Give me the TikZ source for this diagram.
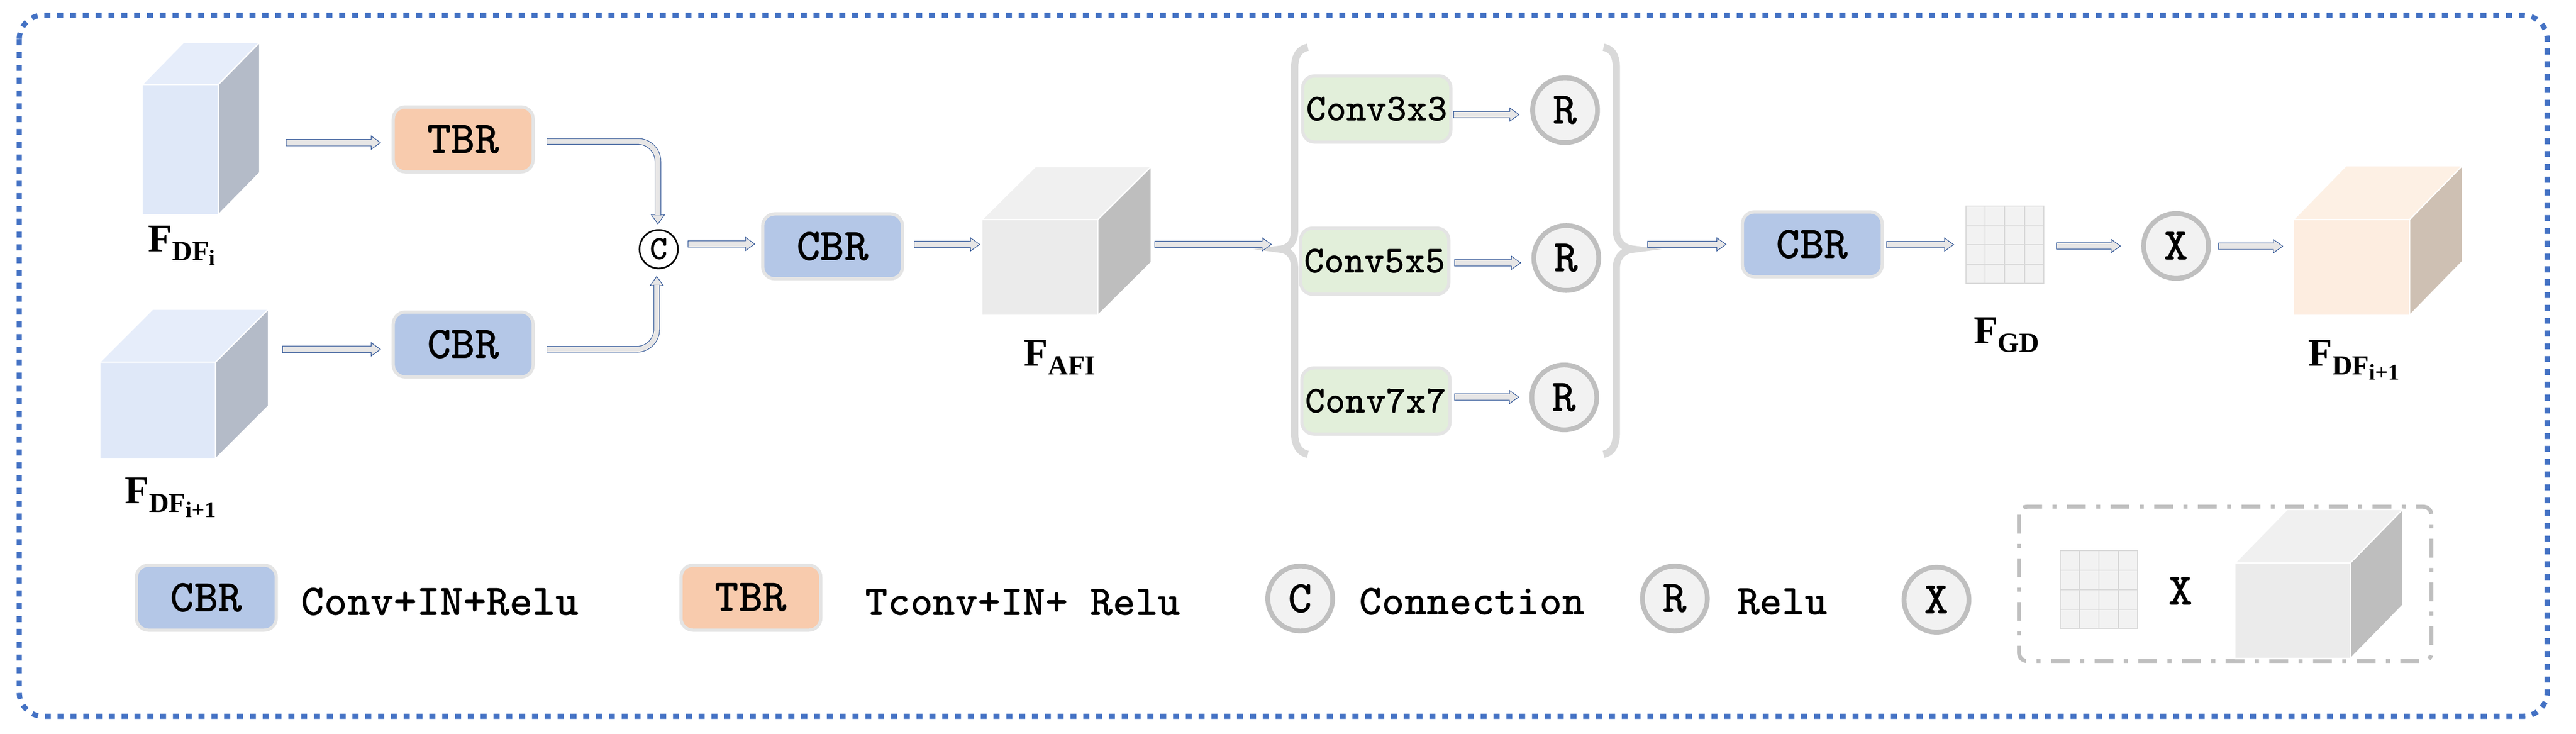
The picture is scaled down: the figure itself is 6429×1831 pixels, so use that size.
\documentclass[tikz,border=0pt]{standalone}
\usepackage{fontspec}
\setmainfont{Liberation Serif}
\usetikzlibrary{calc,fit}
\definecolor{ablue}{HTML}{2F5597}
\definecolor{agray}{HTML}{E7E6E6}
\definecolor{bblue}{HTML}{4472C4}
\definecolor{cbrc}{HTML}{B4C7E7}
\definecolor{tbrc}{HTML}{F8CBAD}
\definecolor{convc}{HTML}{E2EFDA}
\definecolor{boxline}{HTML}{E4E4E4}
\definecolor{bracec}{HTML}{D9D9D9}
\definecolor{cfill}{HTML}{F2F2F2}
\definecolor{cstroke}{HTML}{BFBFBF}
\definecolor{gline}{HTML}{D9D9D9}
\definecolor{cbF}{HTML}{DFE8F8}
\definecolor{cbT}{HTML}{E6EDFA}
\definecolor{cbS}{HTML}{B4BBC8}
\definecolor{cgF}{HTML}{EBEBEB}
\definecolor{cgT}{HTML}{F0F0F0}
\definecolor{cgS}{HTML}{BEBEBE}
\definecolor{coF}{HTML}{FDEDE0}
\definecolor{coT}{HTML}{FDF0E4}
\definecolor{coS}{HTML}{CEC0B3}
\newcommand\monoL{\ttfamily\bfseries\fontsize{11.4}{13}\selectfont}
\newcommand\monoM{\ttfamily\bfseries\fontsize{11}{13}\selectfont}
\newcommand\monoN{\ttfamily\bfseries\fontsize{10.7}{13}\selectfont}
\newcommand\monoS{\ttfamily\bfseries\fontsize{9.6}{11}\selectfont}
\newcommand\labfont{\bfseries\fontsize{9.8}{11}\selectfont}
% F label with subscript and optional sub-subscript
\newcommand\Flab[2]{F\raisebox{-2.2pt}{\fontsize{6.9}{8}\selectfont #1\raisebox{-1.3pt}{\fontsize{5.6}{6}\selectfont #2}}}
\tikzset{
  ahead/.style={draw=ablue, fill=agray, line width=0.15pt, line join=miter},
  dshaft/.style={draw=ablue, line width=0.15pt, double=agray, double distance=1.3pt},
  blockbox/.style={rectangle, rounded corners=3pt, draw=boxline, line width=0.8pt, minimum width=34.9pt, minimum height=16.2pt, inner sep=0pt, font=\monoL},
  convbox/.style={blockbox, fill=convc, minimum width=37pt, minimum height=16.5pt, font=\monoS},
  rcirc/.style={circle, fill=cfill, draw=cstroke, line width=1.2pt, minimum size=16.2pt, inner sep=0pt, font=\monoL},
  flabel/.style={anchor=base west, inner sep=0pt, font=\labfont},
  legtext/.style={anchor=base west, inner sep=0pt, font=\monoM},
  facestyle/.style={draw=white, line width=0.3pt, line join=miter},
}
% cube: name, x1, y1, x2, y2 (front face), dx, dy, colour prefix
\newcommand\cube[8]{%
  \filldraw[facestyle, fill=#8F] (#2,#3) rectangle (#4,#5);
  \filldraw[facestyle, fill=#8T] (#2,#3) -- (#2+#6,#3-#7) -- (#4+#6,#3-#7) -- (#4,#3) -- cycle;
  \filldraw[facestyle, fill=#8S] (#4,#3) -- (#4+#6,#3-#7) -- (#4+#6,#5-#7) -- (#4,#5) -- cycle;
  \node[fit={(#2,#3-#7) (#4+#6,#5)}, inner sep=0pt] (#1) {};
}
% straight block arrow: start, tip
\newcommand\harrow[2]{%
  \path #1 coordinate (hs) #2 coordinate (ht);
  \draw[ahead] ($(hs|-ht)+(0,-8)$) -- ($(ht)+(-23,-8)$) -- ($(ht)+(-23,-16.5)$) -- (ht)
     -- ($(ht)+(-23,16.5)$) -- ($(ht)+(-23,8)$) -- ($(hs|-ht)+(0,8)$) -- cycle;
}
% elbow block arrow: start, tip, direction (1 down, -1 up)
\newcommand\elbow[3]{%
  \path #1 coordinate (hs) #2 coordinate (ht);
  \draw[ahead] ($(ht)+(-16.5,-23*#3)$) -- (ht) -- ($(ht)+(16.5,-23*#3)$) -- cycle;
  \draw[dshaft, rounded corners=5pt] (hs) -| ($(ht)+(0,-21*#3)$);
  \draw[draw=ablue, line width=0.15pt] ($(hs)+(0,-8)$) -- ($(hs)+(0,8)$);
}
\begin{document}
\begin{tikzpicture}[x=0.1pt,y=-0.1pt]
\useasboundingbox (0,0) rectangle (6429,1831);
\fill[white] (0,0) rectangle (6429,1831);
% outer border
\draw[bblue, line width=1.3pt, dash pattern=on 1.5pt off 1.7pt, rounded corners=6pt] (48,38) rectangle (6357,1788);

% cubes
\cube{c1}{355}{211}{545}{536}{103}{105}{cb}
\cube{c2}{249}{904}{538}{1145}{132}{132}{cb}
\cube{c3}{2451}{548}{2740}{787}{133}{132}{cg}
\cube{c4}{5724}{548}{6014}{787}{131}{134}{co}

% labels
\node[flabel] (l1) at (368,628) {\Flab{DF}{i}};
\node[flabel] (l2) at (310,1257) {\Flab{DF}{i+1}};
\node[flabel] (l3) at (2554,913) {\Flab{AFI}{}};
\node[flabel] (l4) at (4924,857) {\Flab{GD}{}};
\node[flabel] (l5) at (5759,913) {\Flab{DF}{i+1}};

% boxes
\node[blockbox, fill=tbrc] (tbr) at (1156,348) {TBR};
\node[blockbox, fill=cbrc] (cbr1) at (1156,860) {CBR};
\node[blockbox, fill=cbrc] (cbrm) at (2078,615) {CBR};
\node[blockbox, fill=cbrc] (cbrr) at (4523,610) {CBR};
\node[convbox] (cv3) at (3436,272) {Conv3x3};
\node[convbox] (cv5) at (3431,652) {Conv5x5};
\node[convbox] (cv7) at (3434,1001) {Conv7x7};

% circles
\node[circle, fill=white, draw=black, line width=0.4pt, minimum size=9.6pt, inner sep=0pt, font=\ttfamily\bfseries\fontsize{8.5}{10}\selectfont] (cc) at (1644,622) {C};
\node[rcirc] (r1) at (3906,275) {R};
\node[rcirc] (r2) at (3909,644) {R};
\node[rcirc] (r3) at (3904,992) {R};
\node[rcirc] (xm) at (5431,614) {X};

% grid F_GD
\node[rectangle, fill=cfill, draw=gline, line width=0.25pt, minimum width=19.5pt, minimum height=19.3pt, inner sep=0pt] (gd) at (5003.5,610.5) {};
\foreach \i in {1,2,3}{
  \draw[gline, line width=0.25pt] ($(gd.north west)!\i/4!(gd.north east)$) -- ($(gd.south west)!\i/4!(gd.south east)$);
  \draw[gline, line width=0.25pt] ($(gd.north west)!\i/4!(gd.south west)$) -- ($(gd.north east)!\i/4!(gd.south east)$);
}

% braces
\coordinate (lb) at (3195,622);
\coordinate (rb) at (4076,622);
\draw[bracec, line width=1.8pt] (3264,118) .. controls (3242,122) and (3231,140) .. (3231,170) -- (3231,575)
   .. controls (3231,605) and (3216,620) .. (lb) .. controls (3216,624) and (3231,639) .. (3231,669)
   -- (3231,1080) .. controls (3231,1110) and (3242,1130) .. (3264,1134);
\draw[bracec, line width=1.8pt] (4002,118) .. controls (4024,122) and (4034,140) .. (4034,170) -- (4034,575)
   .. controls (4034,605) and (4054,620) .. (rb) .. controls (4054,624) and (4034,639) .. (4034,669)
   -- (4034,1080) .. controls (4034,1110) and (4024,1130) .. (4002,1134);

% arrows
\harrow{($(c1.east)+(64,0)$)}{($(tbr.west)+(-28,8)$)}
\harrow{($(c2.east)+(33,0)$)}{($(cbr1.west)+(-28,12)$)}
\elbow{($(tbr.east)+(30,5)$)}{($(cc.north)+(-2,-13)$)}{1}
\elbow{($(cbr1.east)+(30,12)$)}{($(cc.south)+(-5,18)$)}{-1}
\harrow{($(cc.east)+(23,0)$)}{($(cbrm.west)+(-16,-6)$)}
\harrow{($(cbrm.east)+(25,0)$)}{($(c3.west)+(-4,8.5)$)}
\harrow{($(c3.east)+(7,0)$)}{($(lb)+(-22,-12)$)}
\harrow{($(cv3.east)+(3,0)$)}{($(r1.west)+(-28,11)$)}
\harrow{($(cv5.east)+(10,0)$)}{($(r2.west)+(-27,12)$)}
\harrow{($(cv7.east)+(7,0)$)}{($(r3.west)+(-27,-1)$)}
\harrow{($(rb)+(36,0)$)}{($(cbrr.west)+(-37,0)$)}
\harrow{($(cbrr.east)+(7,0)$)}{($(gd.west)+(-29,0)$)}
\harrow{($(gd.east)+(30,0)$)}{($(xm.west)+(-52,0)$)}
\harrow{($(xm.east)+(19,0)$)}{($(c4.west)+(-25,14)$)}

% legend
\node[blockbox, fill=cbrc] (lg1) at (515,1492) {CBR};
\node[legtext] (lt1) at (750,1536) {Conv+IN+Relu};
\node[blockbox, fill=tbrc] (lg2) at (1874,1492) {TBR};
\node[legtext, font=\monoN] (lt2) at (2158,1536) {Tconv+IN+ Relu};
\node[rcirc] (lg3) at (3245,1494) {C};
\node[legtext, font=\monoN] (lt3) at (3391,1535) {Connection};
\node[rcirc] (lg4) at (4180,1494) {R};
\node[legtext, font=\monoN] (lt4) at (4334,1535) {Relu};
\node[rcirc] (lg5) at (4833,1497) {X};
\draw[cstroke, line width=1pt, dash pattern=on 4.7pt off 2.6pt on 1pt off 2.6pt, rounded corners=2pt] (5039,1265) rectangle (6068,1650);
\node[rectangle, fill=cfill, draw=gline, line width=0.25pt, minimum width=19.3pt, minimum height=19.4pt, inner sep=0pt] (lgd) at (5238.5,1472) {};
\foreach \i in {1,2,3}{
  \draw[gline, line width=0.25pt] ($(lgd.north west)!\i/4!(lgd.north east)$) -- ($(lgd.south west)!\i/4!(lgd.south east)$);
  \draw[gline, line width=0.25pt] ($(lgd.north west)!\i/4!(lgd.south west)$) -- ($(lgd.north east)!\i/4!(lgd.south east)$);
}
\node[inner sep=0pt, font=\monoL] (lx) at (5442,1475) {X};
\cube{c5}{5578}{1405}{5866}{1644}{130}{133}{cg}
\end{tikzpicture}
\end{document}
